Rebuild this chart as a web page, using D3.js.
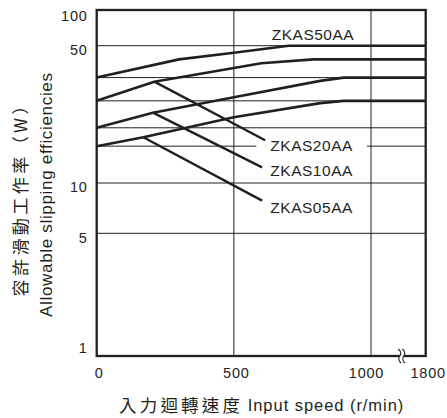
<!DOCTYPE html>
<html lang="zh-Hant">
<head>
<meta charset="UTF-8" />
<title>ZKAS allowable slipping</title>
<script src="https://cdn.jsdelivr.net/npm/d3@7"></script>
<style>
  body { margin: 0; background: #fff; }
  text { fill: #231f20; }
</style>
</head>
<body>
<svg id="vis" width="447" height="418"></svg>
<script>
  // tick values
  const speedTicks = [0, 500, 1000, 1800];
  const powerTicks = [1, 5, 10, 50, 100];

  // curves (speed r/min, power W)
  const models = ["ZKAS50AA", "ZKAS20AA", "ZKAS10AA", "ZKAS05AA"];
  const speed50 = [0, 300, 500, 700, 1800];
  const power50 = [34.4, 42.6, 46, 50, 50];
  const speed20 = [0, 210, 500, 600, 790, 1800];
  const power20 = [26.2, 32.8, 38.5, 40.7, 42.6, 42.6];
  const speed10 = [0, 205, 500, 815, 900, 1800];
  const power10 = [19.1, 22.8, 27.3, 33.1, 34.4, 34.4];
  const speed05 = [0, 170, 500, 815, 900, 1800];
  const power05 = [15.4, 17.1, 21.6, 25.5, 26.2, 26.2];

  // label anchors and leader lines, in data units
  const labelSpeed = [638, 633, 633, 633];
  const labelPower = [56, 14.6, 10.9, 6.6];
  const leaderFrom = [null, [210, 32.8], [205, 22.8], [170, 17.1]];
  const leaderTo = [null, [614, 16.5], [603, 12], [603, 7.85]];

  const ink = "#231f20";
  const latin = "'Liberation Sans', Arial, sans-serif";
  const cjk = "'Noto Sans CJK TC', 'Noto Sans CJK JP', sans-serif";

  let svg = d3.select("#vis");

  // Echelles (x cassée après 1000, y log irrégulière comme l'original)
  let x = d3.scaleLinear().domain([0, 1000, 1800]).range([96.7, 371, 425.7]);
  let y = d3.scaleLog().domain(powerTicks).range([356, 233.3, 183, 45.7, 10]);

  let gGrid = svg.append("g");
  let gMask = svg.append("g");
  let gCurves = svg.append("g");
  let gLabels = svg.append("g");

  // horizontal grid: ticks 5,10,50 plus each curve's start level
  let hLines = [5, 10, 50, power50[0], power20[0], power10[0], power05[0]];
  hLines.forEach(function (v) {
    gGrid.append("line")
      .attr("x1", x(0)).attr("x2", x(1800))
      .attr("y1", y(v)).attr("y2", y(v))
      .attr("stroke", ink).attr("stroke-width", 1);
  });
  [500, 1000].forEach(function (v) {
    gGrid.append("line")
      .attr("x1", x(v)).attr("x2", x(v))
      .attr("y1", y(100)).attr("y2", y(1))
      .attr("stroke", ink).attr("stroke-width", 1);
  });

  // frame
  gGrid.append("rect")
    .attr("x", x(0)).attr("y", y(100))
    .attr("width", x(1800) - x(0)).attr("height", y(1) - y(100))
    .attr("fill", "none").attr("stroke", ink).attr("stroke-width", 2.3);

  // axis break mark
  let bx = x(1450), by = y(1);
  gGrid.append("rect").attr("x", bx - 2).attr("y", by - 2).attr("width", 4).attr("height", 4).attr("fill", "#fff");
  [-2, 2].forEach(function (o) {
    gGrid.append("path")
      .attr("d", "M" + (bx + o - 1.5) + "," + (by - 7) + " c3,2 3,5 1.5,7 c-1.5,2 -1.5,5 1.5,7")
      .attr("fill", "none").attr("stroke", ink).attr("stroke-width", 1.1);
  });

  // curves
  let line = d3.line().x(d => x(d[0])).y(d => y(d[1]));
  let speeds = [speed50, speed20, speed10, speed05];
  let powers = [power50, power20, power10, power05];
  for (let i = 0; i < models.length; i++) {
    let pts = speeds[i].map((s, j) => [s, powers[i][j]]);
    gCurves.append("path")
      .attr("d", line(pts))
      .attr("fill", "none").attr("stroke", ink)
      .attr("stroke-width", 2.6).attr("stroke-linejoin", "round");
    if (leaderFrom[i]) {
      gCurves.append("path")
        .attr("d", line([leaderFrom[i], leaderTo[i]]))
        .attr("fill", "none").attr("stroke", ink).attr("stroke-width", 2.4);
    }
    let t = gLabels.append("text")
      .attr("x", x(labelSpeed[i])).attr("y", y(labelPower[i]))
      .attr("font-family", latin).attr("font-size", 15.5)
      .attr("textLength", 82).attr("lengthAdjust", "spacing")
      .text(models[i]);
    let b = t.node().getBBox();
    gMask.append("rect")
      .attr("x", b.x - 14).attr("y", b.y + 3)
      .attr("width", b.width + 28).attr("height", b.height - 7)
      .attr("fill", "#fff");
  }

  // Axe X
  let gx = svg.append("g").attr("transform", "translate(0," + y(1) + ")")
    .call(d3.axisBottom(x).tickValues(speedTicks).tickSize(0).tickPadding(12).tickFormat(d3.format("d")));
  gx.select(".domain").remove();
  gx.selectAll("text")
    .attr("font-family", latin).attr("font-size", 14.5).attr("letter-spacing", 0.8)
    .attr("fill", ink)
    .attr("dx", d => d === 1000 ? -5 : 2);

  // Axe Y
  let gy = svg.append("g").attr("transform", "translate(" + x(0) + ",0)")
    .call(d3.axisLeft(y).tickValues(powerTicks).tickSize(0).tickPadding(9).tickFormat(d3.format("d")));
  gy.select(".domain").remove();
  gy.selectAll("text")
    .attr("font-family", latin).attr("font-size", 14.5).attr("letter-spacing", 0.8)
    .attr("fill", ink)
    .attr("dy", d => d === 1 ? "-0.23em" : d === 100 ? "0.73em" : "0.6em");

  // axis titles
  svg.append("text")
    .attr("x", 119).attr("y", 411.5)
    .attr("font-family", cjk).attr("font-size", 17.5)
    .attr("textLength", 121).attr("lengthAdjust", "spacing")
    .text("入力迴轉速度");
  svg.append("text")
    .attr("x", 247.7).attr("y", 411)
    .attr("font-family", latin).attr("font-size", 16.5)
    .attr("textLength", 155.6).attr("lengthAdjust", "spacing")
    .text("Input speed (r/min)");

  svg.append("text")
    .attr("transform", "translate(26.5,197) rotate(-90)")
    .attr("text-anchor", "middle")
    .attr("font-family", cjk).attr("font-size", 17)
    .attr("textLength", 199).attr("lengthAdjust", "spacing")
    .text("容許滑動工作率（W）");
  svg.append("text")
    .attr("transform", "translate(51.6,195) rotate(-90)")
    .attr("text-anchor", "middle")
    .attr("font-family", latin).attr("font-size", 17)
    .attr("textLength", 244).attr("lengthAdjust", "spacing")
    .text("Allowable slipping efficiencies");
</script>
</body>
</html>
